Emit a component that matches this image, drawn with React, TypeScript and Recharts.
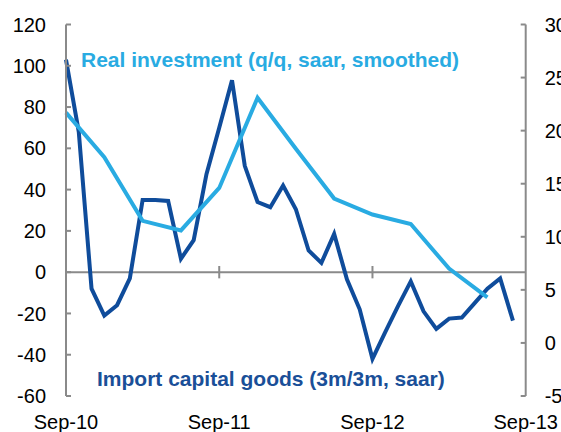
import React from "react";
import {
  Customized,
  Line,
  LineChart,
  ReferenceLine,
  XAxis,
  YAxis,
} from "recharts";

// monthly, Sep-10 .. Aug-13 (left axis)
const importCapitalGoods = [
  103, 68, -8, -21, -16, -3, 35, 35, 34.5, 6.5, 15.5, 47.5,
  70, 93, 51.5, 34, 31.5, 42, 30.5, 10.5, 4.5, 18.5, -3.5, -18,
  -42, -29, -16.5, -4.5, -19, -27.5, -22.5, -22, -15, -8, -3, -23.5,
];

// quarterly, Sep-10 .. Jun-13 (right axis)
const realInvestment = [21.7, 17.5, 11.5, 10.6, 14.6, 23.1, 18.3, 13.6, 12.1, 11.2, 7.0, 4.3];

const xTickMonths = [0, 12, 24, 36];
const xTickLabels = ["Sep-10", "Sep-11", "Sep-12", "Sep-13"];
const leftTicks = [-60, -40, -20, 0, 20, 40, 60, 80, 100, 120];
const rightTicks = [-5, 0, 5, 10, 15, 20, 25, 30];

const data = Array.from({ length: 37 }, (_, m) => ({
  m,
  imports: m < importCapitalGoods.length ? importCapitalGoods[m] : null,
  investment: m % 3 === 0 && m / 3 < realInvestment.length ? realInvestment[m / 3] : null,
}));

const FONT = "'Liberation Sans', Arial, sans-serif";
const AXIS = "#8a8a8a";
const DARK = "#0f4c9b";
const LIGHT = "#29abe2";

const LeftTick = (props: any) => {
  const { x, y, payload } = props;
  return (
    <g>
      <line x1={x} x2={x + 5} y1={y} y2={y} stroke={AXIS} strokeWidth={2} />
      <text x={x - 20} y={y} dy="0.355em" textAnchor="end" fontSize={20} fill="#000" fontFamily={FONT}>
        {payload.value}
      </text>
    </g>
  );
};

const RightTick = (props: any) => {
  const { x, y, payload } = props;
  return (
    <g>
      <line x1={x - 5} x2={x} y1={y} y2={y} stroke={AXIS} strokeWidth={2} />
      <text x={x + 19} y={y} dy="0.355em" textAnchor="start" fontSize={20} fill="#000" fontFamily={FONT}>
        {payload.value}
      </text>
    </g>
  );
};

const Titles = () => (
  <g fontFamily={FONT} fontWeight="bold" fontSize={21}>
    <text x={81} y={67} fill={LIGHT}>
      Real investment (q/q, saar, smoothed)
    </text>
    <text x={97} y={386} fill="#1a4f98">
      Import capital goods (3m/3m, saar)
    </text>
  </g>
);

export default function App(): React.ReactElement {
  return (
    <div style={{ position: "absolute", left: 0, top: 0, background: "#fff" }}>
      <LineChart
        width={561}
        height={432}
        data={data}
        margin={{ top: 24.5, right: 0, bottom: 0, left: 0 }}
      >
        <XAxis
          dataKey="m"
          type="number"
          domain={[0, 36]}
          ticks={xTickMonths}
          interval={0}
          tickFormatter={(v: number) => xTickLabels[xTickMonths.indexOf(v)]}
          axisLine={false}
          tickLine={false}
          tickSize={6}
          tickMargin={13}
          height={36}
          tick={{ fontSize: 20, fill: "#000", fontFamily: FONT }}
        />
        <YAxis
          yAxisId="left"
          orientation="left"
          width={66}
          domain={[-60, 120]}
          ticks={leftTicks}
          interval={0}
          axisLine={{ stroke: AXIS, strokeWidth: 2 }}
          tickLine={false}
          tickSize={0}
          tickMargin={0}
          tick={<LeftTick />}
        />
        <YAxis
          yAxisId="right"
          orientation="right"
          width={35.3}
          domain={[-5, 30]}
          ticks={rightTicks}
          interval={0}
          axisLine={{ stroke: AXIS, strokeWidth: 2 }}
          tickLine={false}
          tickSize={0}
          tickMargin={0}
          tick={<RightTick />}
        />
        <ReferenceLine yAxisId="left" y={0} stroke={AXIS} strokeWidth={2} />
        <ReferenceLine
          yAxisId="left"
          segment={[{ x: 12, y: -3 }, { x: 12, y: 3 }]}
          stroke={AXIS}
          strokeWidth={2}
        />
        <ReferenceLine
          yAxisId="left"
          segment={[{ x: 24, y: -3 }, { x: 24, y: 3 }]}
          stroke={AXIS}
          strokeWidth={2}
        />
        <Line
          yAxisId="left"
          dataKey="imports"
          type="linear"
          stroke={DARK}
          strokeWidth={4}
          dot={false}
          isAnimationActive={false}
        />
        <Line
          yAxisId="right"
          dataKey="investment"
          type="linear"
          stroke={LIGHT}
          strokeWidth={4}
          dot={false}
          connectNulls
          isAnimationActive={false}
        />
        <Customized component={Titles} />
      </LineChart>
    </div>
  );
}
